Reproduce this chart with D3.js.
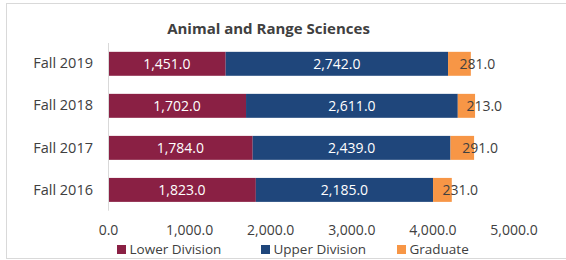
<!DOCTYPE html>
<html>
<head>
<meta charset="utf-8">
<style>
  html, body { margin: 0; padding: 0; background: #fff; }
  svg { display: block; }
  text { font-family: "Open Sans", "Noto Sans", sans-serif; }
</style>
</head>
<body>
<svg width="566" height="260"></svg>
<script src="https://cdnjs.cloudflare.com/ajax/libs/d3/7.8.5/d3.min.js"></script>
<script>
// data
let terms = ["Fall 2019", "Fall 2018", "Fall 2017", "Fall 2016"];
let lowerDivision = [1451, 1702, 1784, 1823];
let upperDivision = [2742, 2611, 2439, 2185];
let graduate = [281, 213, 291, 231];
let seriesNames = ["Lower Division", "Upper Division", "Graduate"];
let xTicks = [0, 1000, 2000, 3000, 4000, 5000];

let colors = ["#8a2044", "#1f467b", "#f79646"];

let svg = d3.select("svg");

// outer frame (right edge falls outside the picture)
svg.append("rect")
  .attr("x", 6.5).attr("y", 3.5)
  .attr("width", 570).attr("height", 255)
  .attr("fill", "none").attr("stroke", "#d9d9d9");

svg.append("text")
  .attr("x", 268.5).attr("y", 33.5)
  .attr("text-anchor", "middle")
  .attr("font-size", 15).attr("font-weight", "bold")
  .attr("fill", "#404040")
  .text("Animal and Range Sciences");

let rows = terms.map((t, i) => ({
  term: t,
  "Lower Division": lowerDivision[i],
  "Upper Division": upperDivision[i],
  "Graduate": graduate[i]
}));

let stack = d3.stack().keys(seriesNames)(rows);

let x = d3.scaleLinear().domain([0, 5000]).range([108, 513.5]);
let y = d3.scaleBand().domain(terms).range([43, 210.7]).paddingInner(0.43).paddingOuter(0.21);

let fmt = d3.format(",.1f");

// bars
let layers = svg.selectAll("g.layer")
  .data(stack)
  .join("g")
  .attr("class", "layer")
  .attr("fill", (d, i) => colors[i]);

layers.selectAll("rect")
  .data(d => d)
  .join("rect")
  .attr("x", d => x(d[0]))
  .attr("y", d => y(d.data.term))
  .attr("width", d => x(d[1]) - x(d[0]))
  .attr("height", y.bandwidth());

// value labels
stack.forEach((s, si) => {
  svg.append("g").selectAll("text")
    .data(s)
    .join("text")
    .attr("x", d => (x(d[0]) + x(d[1])) / 2)
    .attr("y", d => y(d.data.term) + y.bandwidth() / 2)
    .attr("dy", "0.36em")
    .attr("text-anchor", si < 2 ? "middle" : "start")
    .attr("font-size", 14)
    .attr("fill", si < 2 ? "#ffffff" : "#404040")
    .text(d => fmt(d[1] - d[0]));
});

// category axis
let yAxis = svg.append("g")
  .attr("transform", "translate(108,0)")
  .call(d3.axisLeft(y).tickSize(0).tickPadding(15));
yAxis.select(".domain").attr("stroke", "#d9d9d9").attr("d", "M0.5,43V210.7");
yAxis.selectAll("text")
  .attr("font-size", 14.5).attr("fill", "#404040")
  .attr("font-family", "Open Sans, Noto Sans, sans-serif");

// value axis (labels only)
let xAxis = svg.append("g")
  .attr("transform", "translate(0,222)")
  .call(d3.axisBottom(x).tickValues(xTicks).tickSize(0).tickFormat(fmt));
xAxis.select(".domain").remove();
xAxis.selectAll("text")
  .attr("font-size", 14).attr("fill", "#404040")
  .attr("font-family", "Open Sans, Noto Sans, sans-serif");

// legend
let legendX = [117, 261, 397];
let legend = svg.append("g").selectAll("g")
  .data(seriesNames)
  .join("g")
  .attr("transform", (d, i) => `translate(${legendX[i]},245)`);
legend.append("rect")
  .attr("width", 9).attr("height", 9)
  .attr("fill", (d, i) => colors[i]);
legend.append("text")
  .attr("x", 12.5).attr("y", 4.5).attr("dy", "0.36em")
  .attr("font-size", 13.5).attr("fill", "#404040")
  .text(d => d);
</script>
</body>
</html>
